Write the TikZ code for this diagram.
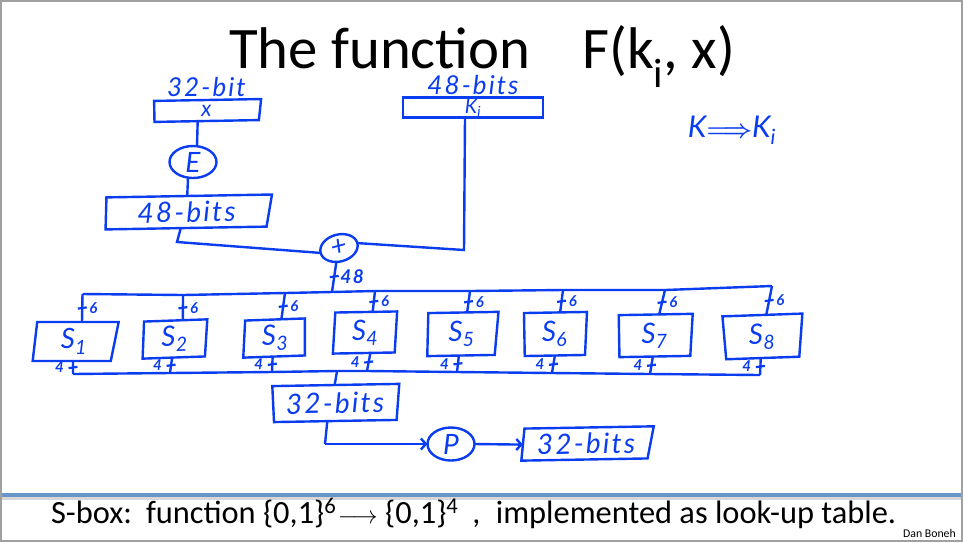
\documentclass[tikz,border=0pt]{standalone}
\usepackage{fontspec}
\usetikzlibrary{positioning,shapes.geometric,arrows.meta}
\setmainfont{Carlito}
\newfontfamily\hand[LetterSpace=8]{Lato}
\definecolor{pen}{RGB}{10,60,240}
\definecolor{rulecol}{RGB}{105,150,200}
\definecolor{shadecol}{RGB}{215,215,215}
\definecolor{framecol}{RGB}{160,160,160}
\tikzstyle{box} = [trapezium, trapezium stretches body=true, draw=pen, line width=2.4pt, inner sep=0pt, outer sep=0pt, text=pen, font=\hand\itshape\fontsize{28}{28}\selectfont]
\tikzstyle{op} = [ellipse, draw=pen, line width=2.4pt, inner sep=0pt, outer sep=0pt, text=pen, font=\hand\itshape\fontsize{28}{28}\selectfont]
\tikzstyle{wire} = [draw=pen, line width=2.4pt]
\tikzstyle{tickmark} = [rectangle, fill=pen, minimum width=9pt, minimum height=2.2pt, inner sep=0pt, rotate=8]
\tikzstyle{bits} = [text=pen, inner sep=0pt, font=\hand\itshape\bfseries\fontsize{15}{15}\selectfont]
\tikzstyle{hw} = [text=pen, inner sep=0pt, font=\hand\itshape\fontsize{26}{26}\selectfont]

\begin{document}
\begin{tikzpicture}[x=1pt,y=-1pt]
\useasboundingbox (0,0) rectangle (963,542);
\fill[framecol] (0,0) rectangle (963,542);
\fill[white] (1.5,1.5) rectangle (961,540);
\fill[shadecol] (1.5,496) rectangle (961,499.5);
\fill[rulecol] (1.5,493) rectangle (961,496.5);

\node[anchor=base west, inner sep=0pt, font=\fontsize{58.8}{58.8}\selectfont] (title) at (229,68) {The function};
\node[anchor=base west, inner sep=0pt, font=\fontsize{58.8}{58.8}\selectfont] (titlef) at (582,68) {F(k\textsubscript{i}, x)};
\node[anchor=base west, inner sep=0pt, font=\fontsize{32.4}{32.4}\selectfont] (note) at (51,523) {S-box:\hspace{14pt}function \{0,1\}\textsuperscript{6}\hspace{-6pt} $\longrightarrow$ \{0,1\}\textsuperscript{4}\hspace{14pt}, \hspace{8pt}implemented as look-up table.};
\node[anchor=base east, inner sep=0pt, font=\fontsize{11.8}{11.8}\selectfont] (credit) at (956,537) {Dan Boneh};
\node[hw, font=\hand\itshape\fontsize{30}{30}\selectfont] (keys) at (732,130) {K{\boldmath$\Longrightarrow$}K\textsubscript{i}};

\node[box, minimum width=107pt, minimum height=21pt, trapezium left angle=90, trapezium right angle=103, rotate=1, font=\hand\itshape\fontsize{22}{22}\selectfont] (x) at (206.5,110.5) {x};
\node[hw, above=3pt of x] (xw) {32-bit};
\node[box, minimum width=140pt, minimum height=20pt, trapezium left angle=90, trapezium right angle=90, font=\hand\itshape\fontsize{20}{20}\selectfont] (Ki) at (473,107.5) {\raisebox{-3pt}{K\textsubscript{i}}};
\node[hw, above=3pt of Ki] (Kw) {48-bits};
\node[op, minimum width=47pt, minimum height=32pt] (E) at (193,162) {E};
\node[box, minimum width=167pt, minimum height=32pt, trapezium left angle=86, trapezium right angle=106, rotate=1] (Ex) at (186.5,212) {48-bits};
\node[op, minimum width=38pt, minimum height=27pt, rotate=15] (xor) at (339,248) {+};

\node[box, minimum width=86pt, minimum height=39pt, trapezium left angle=80, trapezium right angle=107] (S1) at (74,341.5) {S\textsubscript{1}};
\node[box, minimum width=66pt, minimum height=37pt, trapezium left angle=84, trapezium right angle=98, rotate=2] (S2) at (174.5,339) {S\textsubscript{2}};
\node[box, minimum width=63pt, minimum height=37pt, trapezium left angle=83, trapezium right angle=93, rotate=2] (S3) at (275,338) {S\textsubscript{3}};
\node[box, minimum width=65pt, minimum height=41pt, trapezium left angle=83, trapezium right angle=97, rotate=1] (S4) at (365,332.5) {S\textsubscript{4}};
\node[box, minimum width=72pt, minimum height=43pt, trapezium left angle=86, trapezium right angle=100, rotate=1] (S5) at (461.5,334) {S\textsubscript{5}};
\node[box, minimum width=63pt, minimum height=43pt, trapezium left angle=90, trapezium right angle=96, rotate=1] (S6) at (554.5,334) {S\textsubscript{6}};
\node[box, minimum width=74pt, minimum height=42pt, trapezium left angle=90, trapezium right angle=97, rotate=1] (S7) at (654.5,335.5) {S\textsubscript{7}};
\node[box, minimum width=80pt, minimum height=43pt, trapezium left angle=95, trapezium right angle=100, rotate=2] (S8) at (762,336.5) {S\textsubscript{8}};

\node[box, minimum width=127pt, minimum height=36pt, trapezium left angle=93, trapezium right angle=99, rotate=1] (Sout) at (335,403) {32-bits};
\node[op, minimum width=47pt, minimum height=33pt] (P) at (451,444) {P};
\node[box, minimum width=133pt, minimum height=32pt, trapezium left angle=80, trapezium right angle=108, rotate=1] (Pout) at (586,443.5) {32-bits};

% upper bus
\coordinate (in1) at (82.5,294);
\coordinate (in2) at (183,295);
\coordinate (in3) at (285,293);
\coordinate (in) at (332,292);
\coordinate (in4) at (375,291);
\coordinate (in5) at (470,291);
\coordinate (in6) at (563,290);
\coordinate (in7) at (665,290);
\coordinate (in8) at (772,286);
% lower bus
\coordinate (out1) at (73,374);
\coordinate (out2) at (170,373);
\coordinate (out3) at (272,372);
\coordinate (outm) at (337,371);
\coordinate (out4) at (367,371);
\coordinate (out5) at (457,372);
\coordinate (out6) at (552,373);
\coordinate (out7) at (650,374);
\coordinate (out8) at (760,375);
% corners
\coordinate (bendE) at (177,242);
\coordinate (bendK) at (464,250);
\coordinate (bendP) at (325,444);

\draw[wire] (in1) -- (in2) -- (in3) -- (in) -- (in4) -- (in5) -- (in6) -- (in7) -- (in8);
\draw[wire] (out1) -- (out2) -- (out3) -- (outm) -- (out4) -- (out5) -- (out6) -- (out7) -- (out8);
\draw[wire] ([xshift=-9pt]x.south) -- ([xshift=4pt]E.north);
\draw[wire] ([xshift=-5pt]E.south) -- ([xshift=1pt]Ex.north);
\draw[wire] ([xshift=-6pt]Ex.south) -- (bendE) -- (xor.west);
\draw[wire] ([xshift=-8pt]Ki.south) -- (bendK) -- (xor.east);
\draw[wire] ([xshift=-8pt]Sout.south) -- (bendP);
\draw[wire, -{Straight Barb[length=5pt,width=11pt]}] (bendP) -- (P.west);
\draw[wire, -{Straight Barb[length=5pt,width=11pt]}] (P.east) -- (Pout.west);

\path[wire]
    ([xshift=-6pt]xor.south) edge node[tickmark] (t0) {} node[bits, right=5pt, font=\hand\itshape\bfseries\fontsize{19}{19}\selectfont] (b0) {48} (in)
    (in1) edge node[tickmark] (t1) {} node[bits, right=6pt] (b1) {6} ([xshift=8pt]S1.north)
    (in2) edge node[tickmark] (t2) {} node[bits, right=6pt] (b2) {6} ([xshift=9pt]S2.north)
    (in3) edge node[tickmark] (t3) {} node[bits, right=6pt] (b3) {6} ([xshift=7pt]S3.north)
    (in4) edge node[tickmark] (t4) {} node[bits, right=6pt] (b4) {6} ([xshift=8pt]S4.north)
    (in5) edge node[tickmark] (t5) {} node[bits, right=6pt] (b5) {6} ([xshift=6pt]S5.north)
    (in6) edge node[tickmark] (t6) {} node[bits, right=6pt] (b6) {6} ([xshift=6pt]S6.north)
    (in7) edge node[tickmark] (t7) {} node[bits, right=6pt] (b7) {6} ([xshift=5pt]S7.north)
    (in8) edge node[tickmark] (t8) {} node[bits, right=6pt] (b8) {6} ([xshift=5pt]S8.north)
    ([xshift=-1pt]S1.south) edge node[tickmark] (u1) {} node[bits, left=8pt] (c1) {4} (out1)
    ([xshift=-3pt]S2.south) edge node[tickmark] (u2) {} node[bits, left=8pt] (c2) {4} (out2)
    ([xshift=-3pt]S3.south) edge node[tickmark] (u3) {} node[bits, left=8pt] (c3) {4} (out3)
    ([xshift=5pt]S4.south) edge node[tickmark] (u4) {} node[bits, left=8pt] (c4) {4} (out4)
    ([xshift=-3pt]S5.south) edge node[tickmark] (u5) {} node[bits, left=8pt] (c5) {4} (out5)
    ([xshift=0pt]S6.south) edge node[tickmark] (u6) {} node[bits, left=8pt] (c6) {4} (out6)
    ([xshift=-2pt]S7.south) edge node[tickmark] (u7) {} node[bits, left=8pt] (c7) {4} (out7)
    ([xshift=-2pt]S8.south) edge node[tickmark] (u8) {} node[bits, left=8pt] (c8) {4} (out8)
    (outm) edge (Sout.north)
    ;

\end{tikzpicture}
\end{document}
